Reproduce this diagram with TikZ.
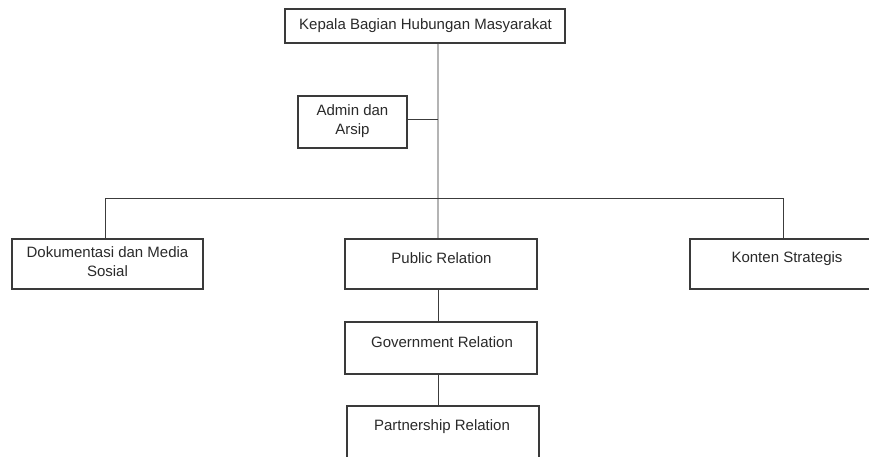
\documentclass[tikz,border=0pt]{standalone}
\usepackage{fontspec}
\setmainfont{Liberation Sans}
\definecolor{boxc}{HTML}{3A3A3A}
\definecolor{linec}{HTML}{3C3C3C}
\definecolor{mainc}{HTML}{B4B4B4}
\definecolor{txtc}{HTML}{2A2A2A}
\begin{document}
\begin{tikzpicture}[x=1pt,y=-1pt,
  orgbox/.style={draw=boxc,line width=1.2pt,inner sep=0pt,fill=white},
  lbl/.style={font=\fontsize{15}{19}\selectfont,align=center,inner sep=0pt,text=txtc},
  conn/.style={draw=linec,line width=1pt},
  spine/.style={draw=mainc,line width=1.6pt}]
\useasboundingbox (0,0) rectangle (869,456);
\clip (0,0) rectangle (869,456);
\fill[white] (0,0) rectangle (869,456);
\coordinate (sp) at (438,0);
\coordinate (busL) at (105,198);
\coordinate (busR) at (783,198);
% boxes
\node[orgbox,minimum width=280pt,minimum height=34pt] (kepala) at (425,26) {};
\node[orgbox,minimum width=109pt,minimum height=52pt] (admin) at (352.5,122) {};
\node[orgbox,minimum width=191pt,minimum height=50pt] (dok) at (107.5,264) {};
\node[orgbox,minimum width=192pt,minimum height=50pt] (pr) at (441,264) {};
\node[orgbox,minimum width=194pt,minimum height=50pt] (konten) at (787,264) {};
\node[orgbox,minimum width=192pt,minimum height=52pt] (gov) at (441,348) {};
\node[orgbox,minimum width=192pt,minimum height=52pt] (part) at (443,432) {};
% connectors
\draw[spine] (kepala.south -| sp) -- (pr.north -| sp);
\draw[conn] ([yshift=2.5pt]admin.east) -- ([yshift=2.5pt]admin.east -| sp);
\draw[conn] (busL) -- (busR);
\draw[conn] (busL) -- (busL |- dok.north);
\draw[conn] (busR) -- (busR |- konten.north);
\draw[conn] (pr.south -| sp) -- (gov.north -| sp);
\draw[conn] (gov.south -| sp) -- (part.north -| sp);
% labels
\node[lbl] (kepalat) at (425.5,26) {Kepala Bagian Hubungan Masyarakat};
\node[lbl,font=\fontsize{15}{18.5}\selectfont] (admint) at (352.5,121) {Admin dan\\Arsip};
\node[lbl] (dokt) at (107.5,261.5) {Dokumentasi dan Media\\Sosial};
\node[lbl] (prt) at (441.5,258) {Public Relation};
\node[lbl] (kontent) at (787,259) {Konten Strategis};
\node[lbl] (govt) at (442,342) {Government Relation};
\node[lbl] (partt) at (442,427) {Partnership Relation};
\end{tikzpicture}
\end{document}
